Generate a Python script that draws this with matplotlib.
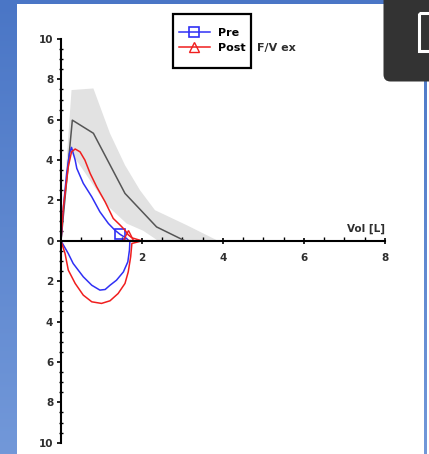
import numpy as np
import matplotlib.pyplot as plt
from matplotlib.patches import Rectangle, FancyBboxPatch
from matplotlib.colors import LinearSegmentedColormap
from matplotlib.ticker import MultipleLocator, FuncFormatter

# flow/volume loops (volume in L, flow in L/s)
pre_vol = [0, 0.06, 0.14, 0.21, 0.26, 0.35, 0.39, 0.55, 0.76, 0.96, 1.17, 1.33, 1.46, 1.62,
           1.70, 1.69, 1.65, 1.54, 1.37, 1.21, 1.09, 0.96, 0.76, 0.55, 0.30, 0.18, 0]
pre_flow = [0, 1.69, 3.34, 4.33, 4.63, 4.0, 3.59, 2.85, 2.18, 1.44, 0.86, 0.53, 0.32, 0.12,
            -0.05, -0.46, -1.04, -1.54, -1.95, -2.2, -2.41, -2.44, -2.2, -1.78, -1.12, -0.63, 0]
pre_mark = 12

post_vol = [0, 0.06, 0.18, 0.26, 0.35, 0.47, 0.59, 0.72, 0.88, 1.09, 1.29, 1.46, 1.58, 1.66,
            1.75, 1.95, 2.0, 1.75, 1.72, 1.66, 1.58, 1.41, 1.21, 1.0, 0.76, 0.55, 0.35, 0.18,
            0.10, 0]
post_flow = [0, 1.69, 3.67, 4.41, 4.55, 4.41, 4.0, 3.34, 2.68, 1.93, 1.11, 0.78, 0.53, 0.30,
             0.15, 0.03, 0.0, -0.13, -0.79, -1.54, -2.11, -2.61, -2.97, -3.1, -3.02, -2.69,
             -2.11, -1.45, -0.63, 0]
post_mark = 13

# predicted curve and its normal range
pred_vol = [0, 0.28, 0.80, 1.58, 2.36, 3.06]
pred_flow = [0, 5.98, 5.33, 2.35, 0.69, 0]
band_up_vol = [0, 0.26, 0.80, 1.21, 1.58, 1.95, 2.32, 3.10, 3.88]
band_up_flow = [0, 7.47, 7.55, 5.32, 3.75, 2.51, 1.52, 0.78, 0.0]
band_lo_vol = [0, 0.24, 0.55, 1.13, 1.62, 2.03, 2.40]
band_lo_flow = [0, 4.4, 3.5, 1.77, 0.86, 0.5, 0.0]

BLUE = '#3030f5'
RED = '#f01e1e'
TXT = '#2e2e2e'

fig = plt.figure(figsize=(4.29, 4.54), dpi=100)

# screenshot surroundings, in pixel coordinates
bg = fig.add_axes([0, 0, 1, 1], zorder=0)
grad = np.linspace(0, 1, 256).reshape(-1, 1)
cmap = LinearSegmentedColormap.from_list('bg', ['#4a76c6', '#7298d9'])
bg.imshow(grad, extent=[0, 429, 454, 0], aspect='auto', cmap=cmap)
bg.set_xlim(0, 429)
bg.set_ylim(454, 0)
bg.axis('off')
bg.add_patch(Rectangle((17, 4), 407, 460, color='white', lw=0))
bg.add_patch(Rectangle((427, 4), 5, 460, color='white', lw=0))
bg.add_patch(FancyBboxPatch((383.5, -10), 60, 91.5, boxstyle='round,pad=0,rounding_size=7',
                            fc='#333333', ec='none'))
bg.add_patch(Rectangle((419, 12.5), 20, 38, fc='none', ec='white', lw=2.2))
bg.add_patch(Rectangle((173.3, 13.5), 77.4, 54, fc='white', ec='black', lw=1.6))

# the chart
ax = fig.add_axes([61 / 429, 11.3 / 454, 324 / 429, 403.7 / 454], zorder=1)
ax.patch.set_alpha(0)

band_x = band_up_vol + band_lo_vol[::-1]
band_y = band_up_flow + band_lo_flow[::-1]
ax.fill(band_x, band_y, color='#e2e2e2', lw=0)
ax.plot(pred_vol, pred_flow, color='#555555', lw=1.1)

ax.plot(pre_vol, pre_flow, color=BLUE, lw=1.1, marker='s', markevery=[pre_mark],
        ms=7, mfc='none', mec=BLUE, mew=1.2, label='Pre')
ax.plot(post_vol, post_flow, color=RED, lw=1.1, marker='^', markevery=[post_mark],
        ms=7, mfc='none', mec=RED, mew=1.0, label='Post')

ax.set_xlim(0, 8)
ax.set_ylim(-10, 10)
for s in ['top', 'right']:
    ax.spines[s].set_visible(False)
ax.spines['left'].set_position(('data', 0))
ax.spines['bottom'].set_position(('data', 0))
ax.spines['left'].set_linewidth(1.5)
ax.spines['bottom'].set_linewidth(1.5)

ax.xaxis.set_major_locator(MultipleLocator(2))
ax.xaxis.set_minor_locator(MultipleLocator(0.5))
ax.yaxis.set_major_locator(MultipleLocator(2))
ax.yaxis.set_minor_locator(MultipleLocator(0.5))
ax.xaxis.set_major_formatter(FuncFormatter(lambda v, p: '' if v == 0 else f'{abs(v):g}'))
ax.yaxis.set_major_formatter(FuncFormatter(lambda v, p: f'{abs(v):g}'))

ax.tick_params(axis='x', which='major', direction='inout', length=5, width=1.2, pad=6.5)
ax.tick_params(axis='x', which='minor', direction='in', length=3, width=1)
ax.tick_params(axis='y', which='major', direction='out', length=3, width=1.2, pad=2.5)
ax.tick_params(axis='y', which='minor', direction='inout', length=3, width=1)
for lab in ax.get_xticklabels() + ax.get_yticklabels():
    lab.set_fontsize(7.5)
    lab.set_fontweight('bold')
    lab.set_color(TXT)

ax.text(8, 0.35, 'Vol [L]', ha='right', va='bottom', fontsize=7.5, fontweight='bold', color=TXT)

ax.legend(loc='center', bbox_to_anchor=(212 / 429, 1 - 40.5 / 454), bbox_transform=fig.transFigure,
          frameon=False, prop={'weight': 'bold', 'size': 8}, handlelength=2.8,
          handletextpad=0.7, labelspacing=0.4, borderpad=0, numpoints=1)
fig.text(256.7 / 429, 1 - 47.5 / 454, 'F/V ex', ha='left', va='center', fontsize=8,
         fontweight='bold', color=TXT)

fig.savefig('out.png', dpi=100)
